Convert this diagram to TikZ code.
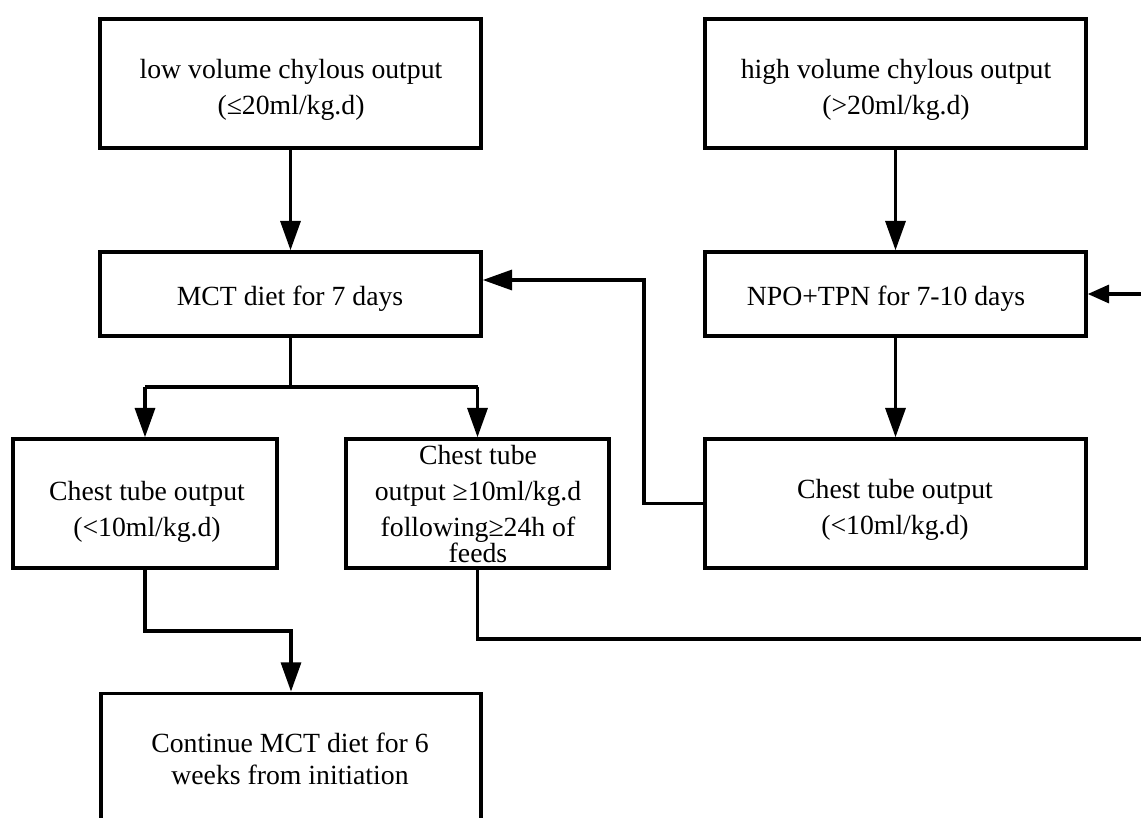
\documentclass[tikz,border=0pt]{standalone}
\usepackage{fontspec}
\setmainfont{Liberation Serif}
\usetikzlibrary{arrows.meta,calc}
\begin{document}
\begin{tikzpicture}[x=0.75pt,y=-0.75pt,
  box/.style={draw, line width=2.6pt, inner sep=0pt},
  txt/.style={align=center, font=\fontsize{20.8pt}{27pt}\selectfont, inner sep=0pt},
  conn/.style={line width=2.5pt},
  arr/.style={conn, -{Triangle[length=22pt,width=15pt]}},
  arrs/.style={conn, -{Triangle[length=16pt,width=13.5pt]}}]
\useasboundingbox (0,0) rectangle (1141,817);
\clip (0,0) rectangle (1141,817);
\fill[white] (0,0) rectangle (1141,817);
% boxes
\node[box, minimum width=285.75pt, minimum height=96.75pt] (low) at (290.5,83.5) {};
\node[box, minimum width=285.75pt, minimum height=96.75pt] (high) at (895.5,83.5) {};
\node[box, minimum width=285.75pt, minimum height=63pt] (mct) at (290.5,294) {};
\node[box, minimum width=285.75pt, minimum height=63pt] (npo) at (895.5,294) {};
\node[box, minimum width=198pt, minimum height=96.75pt] (lchest) at (145,503.5) {};
\node[box, minimum width=197.25pt, minimum height=96.75pt] (mchest) at (477.5,503.5) {};
\node[box, minimum width=285.75pt, minimum height=96.75pt] (rchest) at (895.5,503.5) {};
\node[box, minimum width=285pt, minimum height=127pt] (cont) at (291,778) {};
% texts
\node[txt] (lowtxt) at (291,89.5) {low volume chylous output\\(≤20ml/kg.d)};
\node[txt] (hightxt) at (896,89.5) {high volume chylous output\\(>20ml/kg.d)};
\node[txt] (mcttxt) at (290,299) {MCT diet for 7 days};
\node[txt] (npotxt) at (886,298.5) {NPO+TPN for 7-10 days};
\node[txt] (lchesttxt) at (147,511.5) {Chest tube output\\(<10ml/kg.d)};
\node[txt] (mchesttxt) at (478,504) {Chest tube\\output ≥10ml/kg.d\\following≥24h of\\[-8pt]feeds};
\node[txt] (rchesttxt) at (895,510) {Chest tube output\\(<10ml/kg.d)};
\node[txt, font=\fontsize{20.8pt}{24pt}\selectfont] (conttxt) at (290,759) {Continue MCT diet for 6\\weeks from initiation};
% connectors
\draw[arr] (low.south) -- (mct.north);
\draw[arr] (high.south) -- (npo.north);
\draw[conn] (mct.south) -- (290.5,387);
\draw[arr] (145,387) -- (lchest.north);
\draw[arr] (477.5,387) -- (mchest.north);
\draw[conn] (145,387) -- (477.5,387);
\draw[arr] (npo.south) -- (rchest.north);
\coordinate (ret) at (644,280);
\draw[arr] (rchest.west) -- (644,503.5) -- (ret) -- (ret -| mct.east);
\draw[arr] (lchest.south) -- (145,631) -- (291,631) -- (cont.north);
\draw[arrs] (mchest.south) -- (477.5,639) -- (1160,639) -- (1160,294) -- (npo.east);
\end{tikzpicture}
\end{document}
